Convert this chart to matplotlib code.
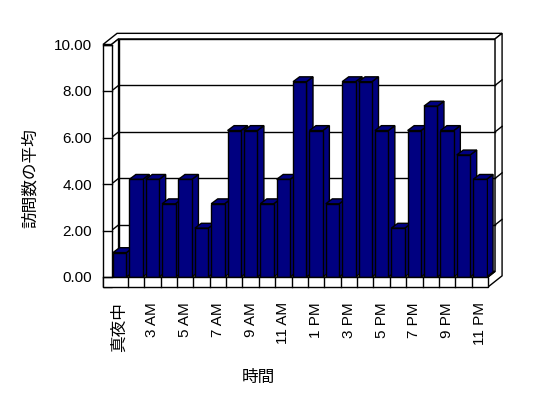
import matplotlib
matplotlib.use('Agg')
import matplotlib.pyplot as plt
from matplotlib.patches import Polygon, Rectangle

plt.rcParams['font.family'] = ['Liberation Sans', 'Noto Sans CJK JP']

# data
hours = ['真夜中', '2 AM', '3 AM', '4 AM', '5 AM', '6 AM', '7 AM', '8 AM',
         '9 AM', '10 AM', '11 AM', '12 PM', '1 PM', '2 PM', '3 PM', '4 PM',
         '5 PM', '6 PM', '7 PM', '8 PM', '9 PM', '10 PM', '11 PM']
visits = [1.05, 4.2, 4.2, 3.15, 4.2, 2.1, 3.15, 6.3, 6.3, 3.15, 4.2, 8.4,
          6.3, 3.15, 8.4, 8.4, 6.3, 2.1, 6.3, 7.35, 6.3, 5.25, 4.2]
yticks = [0, 2, 4, 6, 8, 10]
ytick_labels = ['0.00', '2.00', '4.00', '6.00', '8.00', '10.00']

navy = '#000080'
n = len(hours)
xl, xr = -0.5, n - 0.5
ymax = 10

# 3d look (in data units)
dx, dy = 0.43, 0.24      # wall depth
bdx, bdy = 0.40, 0.21    # bar depth
lt = 0.52                # left wall thickness
ft = 0.43                # floor thickness

fig = plt.figure(figsize=(5.48, 3.98), dpi=100)
ax = fig.add_axes([111.5 / 548, 121 / 398, 376.5 / 548, 232.5 / 398])
ax.set_xlim(xl, xr)
ax.set_ylim(0, ymax)
for s in ax.spines.values():
    s.set_visible(False)

def poly(pts, z, fc='white'):
    p = Polygon(pts, closed=True, facecolor=fc, edgecolor='black', lw=1,
                zorder=z, clip_on=False, joinstyle='miter')
    ax.add_patch(p)

# back wall (front surface) and its top / right sides
poly([(xl + dx, dy), (xr + dx, dy), (xr + dx, ymax + dy), (xl + dx, ymax + dy)], 1)
poly([(xl - lt, ymax), (xl, ymax), (xl + dx, ymax + dy), (xr + dx, ymax + dy),
      (xr + 2 * dx, ymax + 2 * dy), (xl - lt + 2 * dx, ymax + 2 * dy)], 1)
poly([(xr + dx, ymax + dy), (xr + 2 * dx, ymax + 2 * dy), (xr + 2 * dx, -ft + 2 * dy),
      (xr, -ft), (xr, 0), (xr + dx, dy)], 1)
# left wall inner face and floor top
poly([(xl, 0), (xl + dx, dy), (xl + dx, ymax + dy), (xl, ymax)], 1)
poly([(xl, 0), (xr, 0), (xr + dx, dy), (xl + dx, dy)], 1)

# gridlines on back wall + diagonals on left wall
for t in yticks[1:-1]:
    ax.plot([xl + dx, xr + dx], [t + dy, t + dy], color='black', lw=1, zorder=2, clip_on=False)
    ax.plot([xl, xl + dx], [t, t + dy], color='black', lw=1, zorder=2, clip_on=False)
    ax.plot([xr + dx, xr + 2 * dx], [t + dy, t + 2 * dy], color='black', lw=1, zorder=2, clip_on=False)

# bars: front face by ax.bar, side and top faces as polygons
w = 0.82
bars = ax.bar(range(n), visits, width=w, color=navy, edgecolor='black', lw=1, zorder=5)
for i, (b, v) in enumerate(zip(bars, visits)):
    x0 = b.get_x()
    x1 = x0 + w
    b.set_zorder(5 + 2 * i + 1)
    poly([(x1, 0), (x1 + bdx, bdy), (x1 + bdx, v + bdy), (x1, v)], 5 + 2 * i, navy)
    poly([(x0, v), (x1, v), (x1 + bdx, v + bdy), (x0 + bdx, v + bdy)], 5 + 2 * i, navy)

# left wall front face and floor front face
ax.add_patch(Rectangle((xl - lt, -ft), lt, ymax + ft, facecolor='white', edgecolor='black',
                       lw=1, zorder=60, clip_on=False))
ax.add_patch(Rectangle((xl - lt, -ft), xr - xl + lt, ft, facecolor='white', edgecolor='black',
                       lw=1, zorder=60, clip_on=False))
for i in range(n - 1):
    ax.plot([i + 0.5, i + 0.5], [-ft, 0], color='black', lw=1, zorder=61, clip_on=False)
for t in yticks:
    ax.plot([xl - lt, xl], [t, t], color='black', lw=1, zorder=61, clip_on=False)

ax.set_yticks(yticks)
ax.set_yticklabels(ytick_labels, fontsize=11)
ax.set_xticks(range(0, n, 2))
ax.set_xticklabels(hours[::2], rotation=90, fontsize=11)
ax.tick_params(axis='y', length=0, pad=14)
ax.tick_params(axis='x', length=0, pad=18)
ax.get_xticklabels()[0].set_fontsize(12)

fig.text(30 / 548, 1 - 178 / 398, '訪問数の平均', rotation=90, ha='center', va='center',
         fontsize=12, family=['Noto Sans CJK JP'])
fig.text(258 / 548, 1 - 377 / 398, '時間', ha='center', va='center',
         fontsize=12, family=['Noto Sans CJK JP'])

fig.savefig('out.png', dpi=100, facecolor='white')
